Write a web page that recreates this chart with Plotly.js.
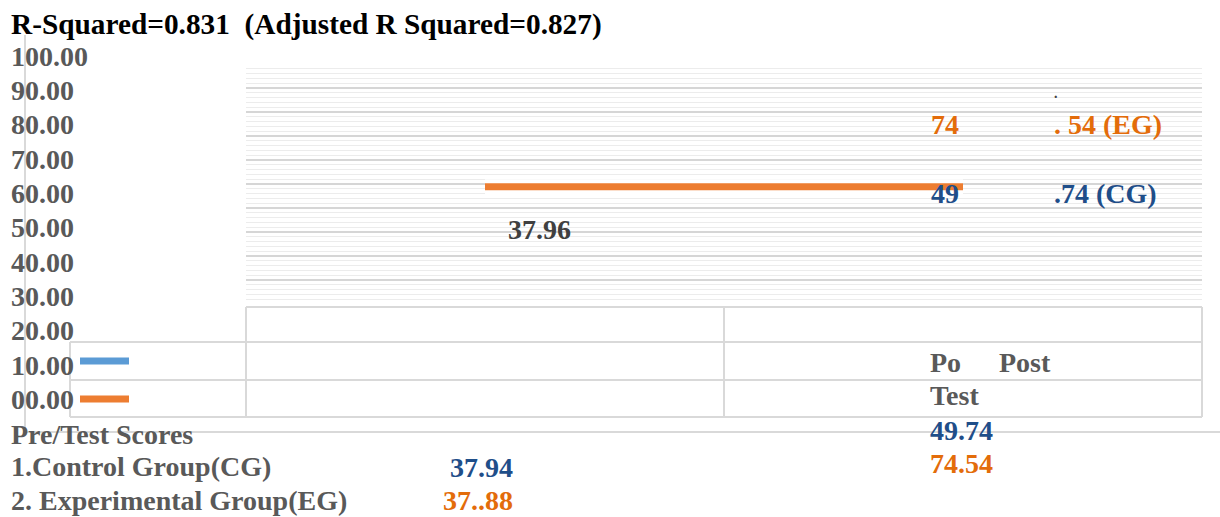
<!DOCTYPE html>
<html>
<head>
<meta charset="utf-8">
<script src="https://cdn.plot.ly/plotly-3.0.1.min.js"></script>
<style>html,body{margin:0;padding:0;background:#fff;}#chart{width:1220px;height:517px;}</style>
</head>
<body>
<div id="chart"></div>
<script>
// ---- data ----
const categories = ["Pre Test", "Post Test"];
const groups = ["1.Control Group(CG)", "2. Experimental Group(EG)"];
const preScores = ["37.94", "37..88"];      // as printed
const postScores = ["49.74", "74.54"];
const rSquared = "0.831";
const adjRSquared = "0.827";
const orangeLine = [62, 62];                 // drawn orange segment
const tickValues = [100, 90, 80, 70, 60, 50, 40, 30, 20, 10, 0];
const tickLabels = ["100.00", "90.00", "80.00", "70.00", "60.00", "50.00", "40.00", "30.00", "20.00", "10.00", "00.00"];
const midLabel = "37.96";
const egSplit = ["74", ". 54 (EG)"];
const cgSplit = ["49", ".74 (CG)"];

// ---- styling ----
const W = 1220, H = 517;
const fx = p => p / W;
const fy = p => 1 - p / H;
const FONT = "Liberation Serif, Times New Roman, serif";
const GRAY = "#595959", BLUE = "#1F4E89", ORANGE = "#E36C0A", DARK = "#404040";
const LINE = "#d9d9d9";
const DX = -3; // annotation inner padding compensation

function txt(text, x, y, color, size, anchor) {
  const a = anchor || "left";
  return {text: "<b>" + text + "</b>", xref: "paper", yref: "paper", x: fx(x + (a === "left" ? DX : -DX)), y: fy(y),
    xanchor: a, yanchor: "middle", showarrow: false,
    font: {family: FONT, size: size || 28, color: color}};
}

const annotations = [];
annotations.push(txt("R-Squared=" + rSquared + "\u00a0\u00a0(Adjusted R Squared=" + adjRSquared + ")", 12, 25, "#000000", 29.3));
tickValues.forEach((v, i) => {
  annotations.push({text: "<b>" + tickLabels[i] + "</b>", xref: "paper", yref: "y2", x: fx(12 + DX), y: v,
    xanchor: "left", yanchor: "middle", showarrow: false, font: {family: FONT, size: 28, color: GRAY}});
});
annotations.push(txt(egSplit[0], 932, 125, ORANGE));
annotations.push(txt(".", 1055, 93, DARK, 14));
annotations.push(txt(egSplit[1], 1055, 125, ORANGE));
annotations.push(txt(cgSplit[0], 932, 193, BLUE));
annotations.push(txt(cgSplit[1], 1055, 193, BLUE));
annotations.push(txt(midLabel, 509, 230, DARK));
annotations.push(txt("Po", 931, 362, GRAY));
annotations.push(txt("Post", 1000, 362, GRAY));
annotations.push(txt("Test", 931, 395, GRAY));
annotations.push(txt(postScores[0], 931, 430, BLUE));
annotations.push(txt(postScores[1], 931, 463, ORANGE));
annotations.push(txt("Pre/Test Scores", 12, 434, GRAY));
annotations.push(txt(groups[0], 12, 466, GRAY));
annotations.push(txt(groups[1], 12, 500, GRAY));
annotations.push(txt(preScores[0], 512, 467, BLUE, 28, "right"));
annotations.push(txt(preScores[1], 512, 500, ORANGE, 28, "right"));

function hline(x0, x1, y, color, w) {
  return {type: "line", xref: "paper", yref: "paper", x0: fx(x0), x1: fx(x1), y0: fy(y), y1: fy(y),
    line: {color: color || LINE, width: w || 2}};
}
function vline(x, y0, y1, color, w) {
  return {type: "line", xref: "paper", yref: "paper", x0: fx(x), x1: fx(x), y0: fy(y0), y1: fy(y1),
    line: {color: color || LINE, width: w || 2}};
}
const shapes = [
  vline(25, 35, 432),
  hline(25, 1220, 432),
  hline(246, 1202, 307),
  hline(70, 1202, 342),
  hline(70, 1202, 380),
  hline(70, 1202, 417),
  vline(70, 342, 417),
  vline(246, 307, 417),
  vline(1202, 307, 417),
  {type: "line", xref: "x", yref: "paper", x0: 0.5, x1: 0.5, y0: fy(307), y1: fy(417), line: {color: LINE, width: 2}},
  hline(80, 129, 361, "#5B9BD5", 7),
  hline(80, 129, 399, "#ED7D31", 7)
];

const traces = [
  // hatch subplot (gridlines only)
  {x: categories, y: [null, null], xaxis: "x", yaxis: "y", type: "scatter", mode: "lines", hoverinfo: "skip", showlegend: false},
  // value subplot
  {x: categories, y: orangeLine, xaxis: "x", yaxis: "y2", type: "scatter", mode: "lines",
    line: {color: "#ffffff", width: 15}, hoverinfo: "skip", showlegend: false},
  {x: categories, y: orangeLine, xaxis: "x", yaxis: "y2", type: "scatter", mode: "lines",
    line: {color: "#ED7D31", width: 7}, hoverinfo: "skip", showlegend: false}
];

const layout = {
  width: W, height: H,
  margin: {l: 0, r: 0, t: 0, b: 0, pad: 0},
  paper_bgcolor: "#ffffff", plot_bgcolor: "rgba(0,0,0,0)",
  showlegend: false,
  xaxis: {type: "category", domain: [fx(246), fx(1202)], range: [-0.5, 1.5], showgrid: false,
    showticklabels: false, zeroline: false, showline: false, ticks: "", anchor: "y", fixedrange: true},
  yaxis: {domain: [fy(304), fy(64)], range: [0, 10], dtick: 1, tick0: 0, showgrid: true, gridcolor: "#d6d6d6", gridwidth: 2,
    minor: {dtick: 0.2, showgrid: true, gridcolor: "#ececec", gridwidth: 1},
    showticklabels: false, zeroline: false, showline: false, ticks: "", anchor: "x", fixedrange: true},
  yaxis2: {domain: [0, 1], range: [-34.18, 116.36], showgrid: false, zeroline: false, showline: false,
    showticklabels: false, ticks: "", anchor: "x", fixedrange: true},
  annotations: annotations,
  shapes: shapes
};

Plotly.newPlot("chart", traces, layout, {staticPlot: true, displayModeBar: false});
</script>
</body>
</html>
